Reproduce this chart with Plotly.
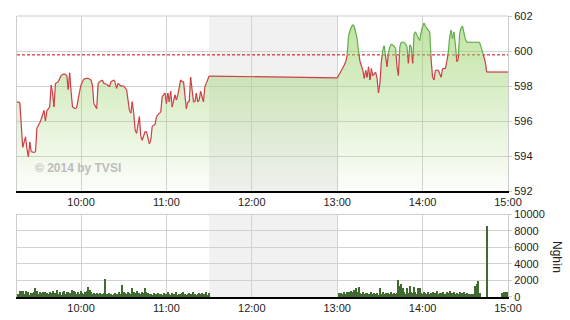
import plotly.graph_objects as go

# ---------------- data ----------------
ref_price = 599.78

price_time = [
    "09:15", "09:17", "09:19", "09:21", "09:22", "09:23", "09:24", "09:25", "09:27", "09:28",
    "09:29", "09:31", "09:32", "09:34", "09:35", "09:36", "09:38", "09:39", "09:40", "09:41",
    "09:42", "09:44", "09:46", "09:48", "09:50", "09:51", "09:52", "09:53", "09:54", "09:56",
    "09:57", "09:59", "10:00", "10:01", "10:02", "10:05", "10:07", "10:08", "10:09", "10:11",
    "10:12", "10:13", "10:15", "10:16", "10:18", "10:20", "10:21", "10:23", "10:24", "10:25",
    "10:26", "10:28", "10:30", "10:32", "10:34", "10:35", "10:36", "10:37", "10:38", "10:39",
    "10:41", "10:42", "10:43", "10:45", "10:46", "10:48", "10:49", "10:50", "10:52", "10:53",
    "10:55", "10:56", "10:57", "10:59", "11:00", "11:01", "11:02", "11:03", "11:04", "11:06",
    "11:07", "11:08", "11:10", "11:11", "11:12", "11:14", "11:15", "11:16", "11:17", "11:19",
    "11:20", "11:21", "11:22", "11:23", "11:24", "11:26", "11:27", "11:28", "11:30",
    "13:00", "13:03", "13:05", "13:06", "13:07", "13:08", "13:10", "13:11", "13:12", "13:14",
    "13:15", "13:16", "13:18", "13:19", "13:20", "13:21", "13:22", "13:23", "13:24", "13:25",
    "13:27", "13:28", "13:29", "13:30", "13:31", "13:32", "13:33", "13:35", "13:36", "13:37",
    "13:38", "13:39", "13:41", "13:42", "13:43", "13:44", "13:45", "13:47", "13:48", "13:49",
    "13:50", "13:51", "13:52", "13:53", "13:54", "13:55", "13:56", "13:58", "13:59", "14:00",
    "14:01", "14:02", "14:04", "14:05", "14:06", "14:07", "14:08", "14:09", "14:11", "14:12",
    "14:13", "14:14", "14:16", "14:17", "14:18", "14:19", "14:20", "14:21", "14:22", "14:23",
    "14:24", "14:25", "14:26", "14:27", "14:28", "14:30", "14:31", "14:40", "14:41", "14:44",
    "14:45", "15:00",
]
price_value = [
    597.10, 597.05, 594.50, 595.10, 594.40, 593.96, 594.80, 594.25, 594.20, 594.25,
    595.60, 595.90, 596.10, 596.60, 596.00, 596.60, 596.80, 598.06, 597.60, 596.80,
    598.15, 598.25, 598.60, 598.70, 598.60, 597.80, 598.76, 597.70, 596.80, 596.70,
    596.80, 597.70, 598.06, 598.25, 598.40, 598.45, 598.35, 598.06, 597.00, 596.70,
    598.15, 598.25, 598.35, 598.15, 598.10, 597.96, 598.25, 598.35, 598.20, 597.87,
    598.15, 598.00, 598.00, 597.80, 596.60, 596.45, 597.10, 596.45, 595.50, 595.30,
    596.25, 595.10, 594.90, 595.40, 595.40, 594.70, 594.90, 595.70, 595.80, 596.25,
    596.45, 596.50, 597.40, 597.60, 597.00, 597.60, 597.10, 597.70, 596.80, 597.50,
    597.20, 597.50, 598.35, 598.25, 598.25, 596.70, 597.10, 597.10, 598.50, 597.10,
    597.10, 597.60, 597.10, 597.20, 597.70, 597.10, 597.96, 598.15, 598.57,
    598.46, 598.90, 599.20, 599.40, 599.77, 600.90, 601.40, 601.50, 601.40, 600.70,
    599.96, 599.40, 598.90, 598.44, 598.90, 598.50, 599.10, 598.35, 599.00, 598.60,
    598.80, 598.44, 597.60, 598.15, 599.40, 600.05, 600.30, 599.10, 599.90, 600.25,
    600.40, 600.35, 600.15, 599.10, 598.60, 600.25, 600.50, 600.50, 600.40, 600.25,
    599.30, 600.35, 600.25, 599.30, 601.00, 601.10, 600.90, 600.60, 601.10, 601.40,
    601.60, 601.40, 601.20, 601.10, 599.50, 598.50, 598.35, 598.90, 598.90, 598.70,
    598.50, 599.00, 599.00, 599.40, 599.87, 600.80, 601.20, 600.70, 601.10, 600.40,
    599.40, 599.50, 601.00, 601.30, 601.43, 600.70, 600.50, 600.50, 600.25, 599.40,
    598.80, 598.80,
]

# volume (thousand shares), one bar per minute
vol_am_start = "09:16"
vol_am = [
    350, 700, 720, 650, 300, 700, 400, 550, 250, 450,
    480, 600, 1080, 650, 300, 500, 450, 600, 250, 550,
    480, 300, 520, 400, 650, 350, 450, 800, 300, 500,
    250, 550, 700, 300, 600, 500, 450, 250, 750, 650,
    500, 300, 600, 350, 700, 450, 300, 500, 650, 1150,
    800, 500, 300, 400, 350, 450, 300, 400, 250, 350,
    400, 2100, 350, 300, 400, 300, 250, 350, 400, 300,
    350, 500, 300, 1360, 600, 400, 300, 550, 450, 300,
    1000, 500, 400, 650, 300, 450, 350, 500, 400, 1030,
    600, 400, 300, 350, 250, 400, 350, 300, 450, 300,
    350, 250, 400, 300, 350, 600, 300, 250, 400, 350,
    300, 500, 250, 350, 300, 400, 550, 300, 250, 350,
    400, 300, 350, 500, 300, 250, 350, 450, 300, 400,
    350, 300, 500, 250, 400,
]
vol_pm_start = "13:01"
vol_pm = [
    400, 300, 450, 350, 500, 300, 550, 600, 500, 650,
    500, 800, 1100, 600, 1200, 400, 350, 500, 300, 450,
    400, 300, 350, 500, 300, 450, 350, 400, 250, 1000,
    350, 500, 300, 450, 350, 400, 300, 500, 350, 400,
    300, 450, 2000, 1300, 1500, 1100, 500, 300, 1000, 400,
    1300, 600, 400, 1200, 500, 300, 1000, 1100, 400, 350,
    500, 400, 350, 600, 300, 450, 500, 350, 400, 700,
    300, 450, 400, 550, 300, 350, 500, 400, 650, 300,
    450, 600, 350, 400, 300, 500, 350, 450, 600, 300,
    400, 350, 300, 250, 300, 300, 1300, 1500, 1900, 400,
    0, 0, 0, 0, 8500, 0, 0, 0, 0, 0,
    0, 0, 0, 0, 0, 400, 600, 600, 600, 600,
]

tick_labels = ["10:00", "11:00", "12:00", "13:00", "14:00", "15:00"]
x_start, x_end = "09:15", "15:00"
break_start, break_end = "11:30", "13:00"


def mins(t):
    h, m = t.split(":")
    return int(h) * 60 + int(m)


px = [mins(t) for t in price_time]
vx = [mins(vol_am_start) + i for i in range(len(vol_am))] + \
     [mins(vol_pm_start) + i for i in range(len(vol_pm))]
vy = vol_am + vol_pm


def split_segments(above):
    sx, sy = [], []
    for i in range(len(px) - 1):
        x0, y0, x1, y1 = px[i], price_value[i], px[i + 1], price_value[i + 1]
        a0 = (y0 >= ref_price) == above
        a1 = (y1 >= ref_price) == above
        if a0 and a1:
            seg = [(x0, y0), (x1, y1)]
        elif a0 or a1:
            t = (ref_price - y0) / (y1 - y0)
            xc = x0 + t * (x1 - x0)
            seg = [(x0, y0), (xc, ref_price)] if a0 else [(xc, ref_price), (x1, y1)]
        else:
            continue
        for (a, b) in seg:
            sx.append(a)
            sy.append(b)
        sx.append(None)
        sy.append(None)
    return sx, sy


gx, gy = split_segments(True)
rx, ry = split_segments(False)

fig = go.Figure()

fig.add_trace(go.Scatter(
    x=[mins(x_start), mins(x_end)], y=[ref_price, ref_price], mode="lines",
    line=dict(color="#cc0000", width=1, dash="3px,2px"), hoverinfo="skip",
    xaxis="x", yaxis="y"))

fig.add_trace(go.Scatter(
    x=px, y=price_value, mode="lines", fill="tozeroy",
    line=dict(width=0, color="rgba(0,0,0,0)"),
    fillgradient=dict(type="vertical", start=592, stop=602,
                      colorscale=[[0, "rgba(170,215,130,0.04)"],
                                  [0.6, "rgba(160,212,115,0.42)"],
                                  [1, "rgba(150,208,100,0.62)"]]),
    hoverinfo="skip", xaxis="x", yaxis="y"))

fig.add_trace(go.Scatter(
    x=rx, y=ry, mode="lines", connectgaps=False,
    line=dict(color="#cc3d45", width=1.2), xaxis="x", yaxis="y"))

fig.add_trace(go.Scatter(
    x=gx, y=gy, mode="lines", connectgaps=False,
    line=dict(color="#62ad4e", width=1.2), xaxis="x", yaxis="y"))

fig.add_trace(go.Bar(
    x=vx, y=vy, width=0.75, marker=dict(color="#3f6a30", line=dict(width=0)),
    xaxis="x2", yaxis="y2"))

tickfont = dict(family="Liberation Sans, Arial, sans-serif", size=11, color="#222222")
tickvals = [mins(t) for t in tick_labels]
xr = [mins(x_start), mins(x_end)]
grid = "#d2d2d2"

common_x = dict(range=xr, tickvals=tickvals, ticktext=tick_labels,
                showgrid=True, gridcolor=grid, gridwidth=1, zeroline=False,
                showline=True, linecolor="#000000", linewidth=2, ticks="",
                tickfont=tickfont, fixedrange=True, automargin=False)
common_y = dict(side="right", showgrid=True, gridcolor=grid, gridwidth=1,
                zeroline=False, showline=True, mirror=True, linecolor="#cccccc",
                linewidth=1, ticks="outside", ticklen=3, tickcolor="#cccccc",
                tickfont=tickfont, fixedrange=True, automargin=False, tickformat="d")

fig.update_layout(
    width=570, height=320,
    margin=dict(l=17, r=62, t=16, b=23, autoexpand=False),
    paper_bgcolor="white", plot_bgcolor="white",
    showlegend=False, bargap=0,
    xaxis=dict(domain=[0, 1], anchor="y", **common_x),
    xaxis2=dict(domain=[0, 1], anchor="y2", **common_x),
    yaxis=dict(domain=[0.377, 1], range=[592, 602], dtick=2, anchor="x", **common_y),
    yaxis2=dict(domain=[0, 0.294], range=[0, 10000], dtick=2000, anchor="x2", **common_y),
    shapes=[
        dict(type="rect", xref="x", yref="y domain", x0=mins(break_start), x1=mins(break_end),
             y0=0, y1=1, fillcolor="#f1f1f1", line=dict(width=0), layer="below"),
        dict(type="rect", xref="x2", yref="y2 domain", x0=mins(break_start), x1=mins(break_end),
             y0=0, y1=1, fillcolor="#f1f1f1", line=dict(width=0), layer="below"),
        dict(type="line", xref="x domain", yref="y domain", x0=0, x1=1, y0=1, y1=1,
             line=dict(color="#cccccc", width=1)),
        dict(type="line", xref="x2 domain", yref="y2 domain", x0=0, x1=1, y0=1, y1=1,
             line=dict(color="#cccccc", width=1)),
    ],
    annotations=[
        dict(text="<b>© 2014 by TVSI</b>", xref="x domain", yref="y domain",
             x=0.032, y=0.131, xanchor="left", yanchor="middle", showarrow=False,
             font=dict(family="Liberation Sans, Arial, sans-serif", size=12, color="#bdbdbd")),
        dict(text="Nghìn", xref="paper", yref="paper", x=(557 - 17) / 491, y=(297 - 257) / 281,
             xanchor="center", yanchor="middle", showarrow=False, textangle=90,
             font=dict(family="Liberation Sans, Arial, sans-serif", size=12, color="#222222")),
    ],
)

fig.write_html("out.html")
